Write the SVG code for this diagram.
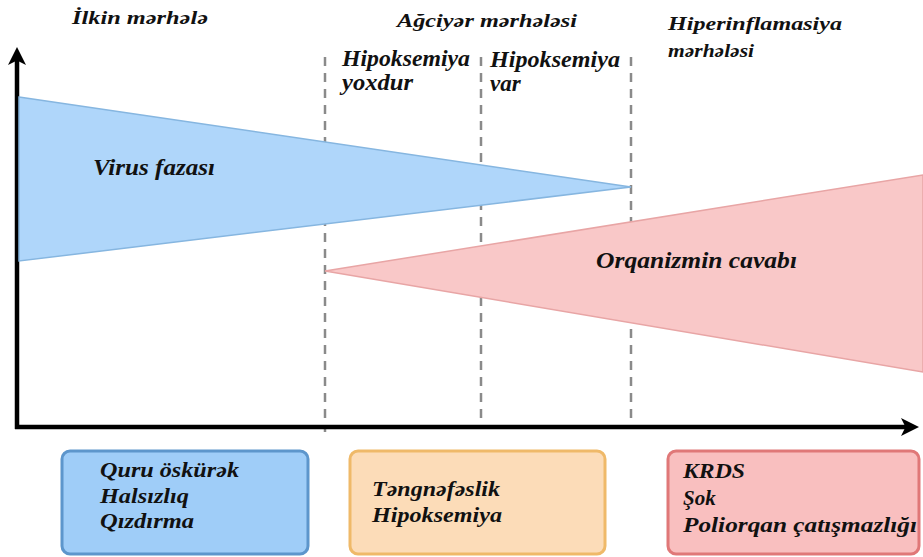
<svg xmlns="http://www.w3.org/2000/svg" width="923" height="557" viewBox="0 0 923 557" font-family="Liberation Serif, Times New Roman, serif">
<defs>
<style>
text{font-weight:700;font-style:italic;fill:#111;}
.hd{font-size:19px;}
.lb{font-size:23px;}
.bx{font-size:21px;}
.dash{stroke:#8a8a8a;stroke-width:2.5;stroke-dasharray:9 7;fill:none;}
.axis{stroke:#000;stroke-width:4.5;fill:none;}
</style>
<marker id="ah" viewBox="0 0 12 12" refX="6" refY="6" markerWidth="4" markerHeight="4" orient="auto" markerUnits="strokeWidth">
<path d="M0,0 L12,6 L0,12 L3,6 Z" fill="#000"/>
</marker>
</defs>
<rect width="923" height="557" fill="#fff"/>
<g id="connectors">
<line class="dash" x1="325" y1="57" x2="325" y2="432"/>
<line class="dash" x1="481" y1="57" x2="481" y2="428"/>
<line class="dash" x1="631" y1="57" x2="631" y2="428"/>
<line class="axis" x1="17" y1="429" x2="17" y2="56" marker-end="url(#ah)"/>
<line class="axis" x1="15" y1="427" x2="910" y2="427" marker-end="url(#ah)"/>
</g>
<g id="virus-phase">
<polygon points="19,97 631,187 19,261" fill="#afd6fa" stroke="#86b6e0" stroke-width="1.5"/>
<text font-family="Liberation Serif, serif" class="lb" x="93" y="175" textLength="122" lengthAdjust="spacingAndGlyphs" style="font-size:24px">Virus fazası</text>
</g>
<g id="body-response">
<polygon points="325,271 923,175 923,372" fill="#f9c8c8" stroke="#e8a5a5" stroke-width="1.5"/>
<text font-family="Liberation Serif, serif" class="lb" x="596" y="268" textLength="201" lengthAdjust="spacingAndGlyphs">Orqanizmin cavabı</text>
</g>
<g id="stage-initial">
<text font-family="Liberation Serif, serif" class="hd" x="72" y="24" textLength="136" lengthAdjust="spacingAndGlyphs">İlkin mərhələ</text>
</g>
<g id="stage-lung">
<text font-family="Liberation Serif, serif" class="hd" x="397" y="27" textLength="180" lengthAdjust="spacingAndGlyphs">Ağciyər mərhələsi</text>
</g>
<g id="stage-hyper">
<text font-family="Liberation Serif, serif" class="hd" x="668" y="30" textLength="174" lengthAdjust="spacingAndGlyphs">Hiperinflamasiya</text>
<text font-family="Liberation Serif, serif" class="hd" x="668" y="57" textLength="86" lengthAdjust="spacingAndGlyphs">mərhələsi</text>
</g>
<g id="no-hypoxemia">
<text font-family="Liberation Serif, serif" class="lb" x="342" y="66" textLength="128" lengthAdjust="spacingAndGlyphs">Hipoksemiya</text>
<text font-family="Liberation Serif, serif" class="lb" x="342" y="90" textLength="71" lengthAdjust="spacingAndGlyphs">yoxdur</text>
</g>
<g id="hypoxemia">
<text font-family="Liberation Serif, serif" class="lb" x="490" y="67" textLength="130" lengthAdjust="spacingAndGlyphs">Hipoksemiya</text>
<text font-family="Liberation Serif, serif" class="lb" x="490" y="91">var</text>
</g>
<g id="box-initial">
<rect x="62" y="451" width="246" height="103" rx="8" fill="#9fcdf8" stroke="#5d96cc" stroke-width="3"/>
<text font-family="Liberation Serif, serif" class="bx" x="100" y="477" textLength="139" lengthAdjust="spacingAndGlyphs">Quru öskürək</text>
<text font-family="Liberation Serif, serif" class="bx" x="100" y="503" textLength="89" lengthAdjust="spacingAndGlyphs">Halsızlıq</text>
<text font-family="Liberation Serif, serif" class="bx" x="100" y="528" textLength="94" lengthAdjust="spacingAndGlyphs">Qızdırma</text>
</g>
<g id="box-lung">
<rect x="350" y="451" width="255" height="103" rx="8" fill="#fcdcb8" stroke="#efb969" stroke-width="3"/>
<text font-family="Liberation Serif, serif" class="bx" x="372" y="496" textLength="128" lengthAdjust="spacingAndGlyphs">Təngnəfəslik</text>
<text font-family="Liberation Serif, serif" class="bx" x="372" y="522" textLength="130" lengthAdjust="spacingAndGlyphs">Hipoksemiya</text>
</g>
<g id="box-hyper">
<rect x="668" y="451" width="251" height="103" rx="8" fill="#f9bfbf" stroke="#e07878" stroke-width="3"/>
<text font-family="Liberation Serif, serif" class="bx" x="683" y="478" textLength="62" lengthAdjust="spacingAndGlyphs">KRDS</text>
<text font-family="Liberation Serif, serif" class="bx" x="683" y="505">Şok</text>
<text font-family="Liberation Serif, serif" class="bx" x="683" y="532" textLength="234" lengthAdjust="spacingAndGlyphs">Poliorqan çatışmazlığı</text>
</g>
</svg>
